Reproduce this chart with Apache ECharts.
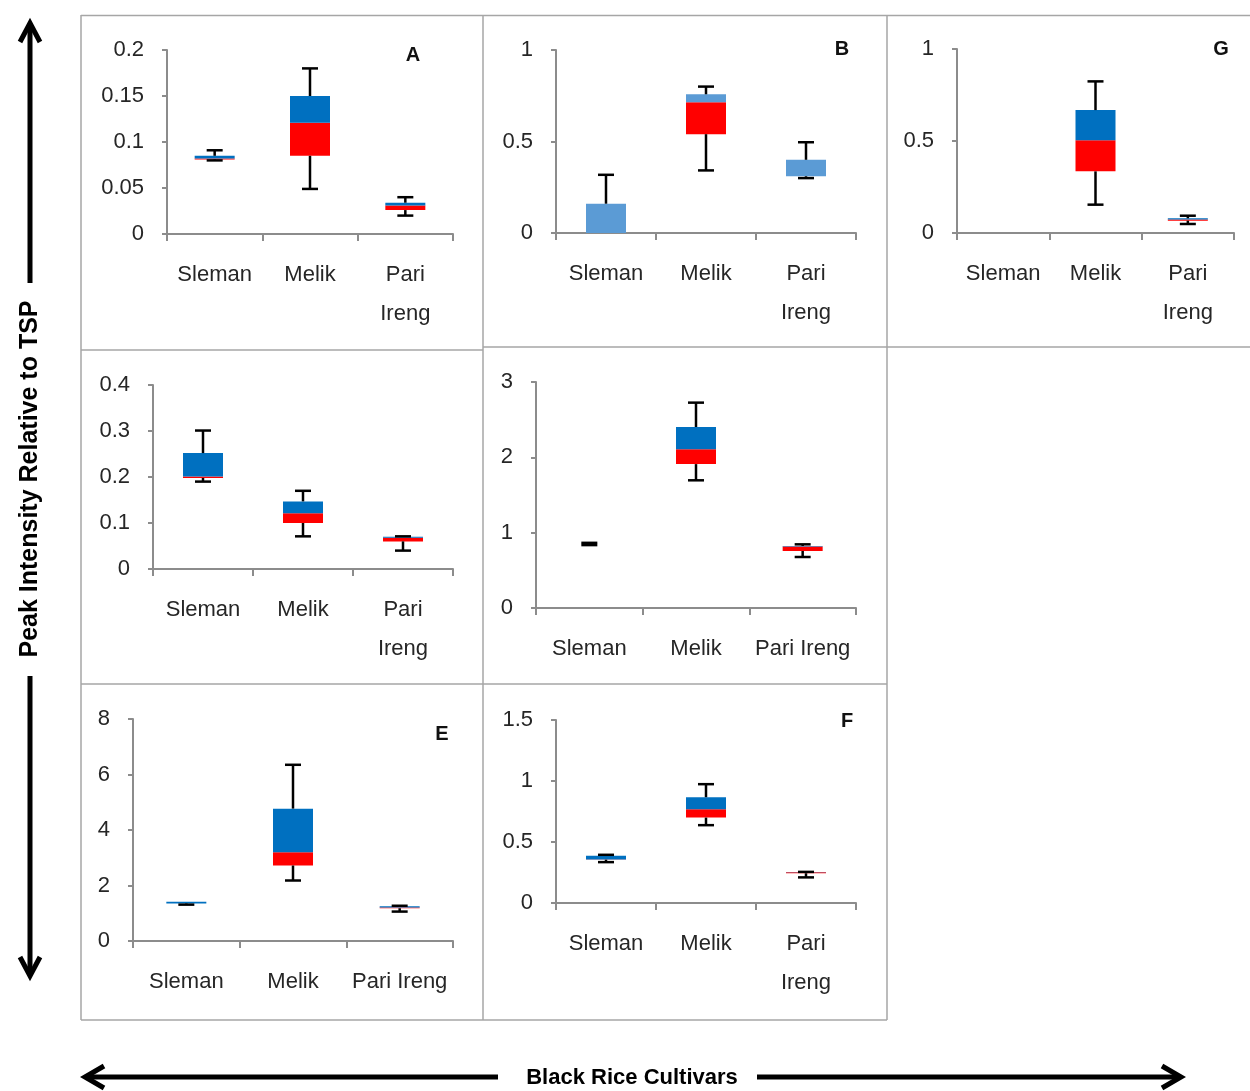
<!DOCTYPE html>
<html><head><meta charset="utf-8">
<script src="https://cdn.jsdelivr.net/npm/echarts@6/dist/echarts.min.js"></script>
<style>html,body{margin:0;padding:0;background:#fff}#c{width:1250px;height:1091px}</style>
</head><body><div id="c"></div>
<script>
// ---------- DATA ----------
const categories = ['Sleman', 'Melik', 'Pari Ireng'];
// rows per cultivar: [min, q1, median, q3, max]
const panelA = [[0.080, 0.081, 0.082, 0.085, 0.091], [0.049, 0.085, 0.121, 0.150, 0.180], [0.020, 0.026, 0.031, 0.034, 0.040]];
const panelB = [[0, 0, 0, 0.160, 0.318], [0.342, 0.540, 0.715, 0.758, 0.800], [0.300, 0.310, 0.310, 0.400, 0.496]];
const panelG = [null, [0.154, 0.335, 0.504, 0.668, 0.824], [0.049, 0.067, 0.073, 0.080, 0.094]];
const panelMidLeft = [[0.190, 0.198, 0.201, 0.252, 0.301], [0.071, 0.100, 0.121, 0.147, 0.170], [0.040, 0.060, 0.068, 0.070, 0.071]];
const panelMidRight = [[0.835, 0.850, 0.850, 0.850, 0.865], [1.695, 1.910, 2.106, 2.403, 2.726], [0.677, 0.757, 0.815, 0.823, 0.845]];
const panelE = [[1.31, 1.35, 1.35, 1.41, 1.41], [2.18, 2.72, 3.20, 4.77, 6.35], [1.06, 1.18, 1.21, 1.25, 1.27]];
const panelF = [[0.335, 0.355, 0.357, 0.387, 0.395], [0.638, 0.700, 0.769, 0.867, 0.974], [0.210, 0.244, 0.252, 0.254, 0.255]];
const yMax = [0.2, 1, 1, 0.4, 3, 8, 1.5];
const yStep = [0.05, 0.5, 0.5, 0.1, 1, 2, 0.5];
const panelLetters = ['A', 'B', 'G', '', '', 'E', 'F'];
const yTitle = 'Peak Intensity Relative to TSP';
const xTitle = 'Black Rice Cultivars';

// ---------- LAYOUT / STYLE ----------
const panels = [panelA, panelB, panelG, panelMidLeft, panelMidRight, panelE, panelF];
const grids = [
  {left: 167, top: 50, width: 286, height: 184},
  {left: 556, top: 50, width: 300, height: 183},
  {left: 957, top: 49, width: 277, height: 184},
  {left: 153, top: 385, width: 300, height: 184},
  {left: 536, top: 382, width: 320, height: 226},
  {left: 133, top: 719, width: 320, height: 222},
  {left: 556, top: 720, width: 300, height: 183}
];
const wrapLabels = [true, true, true, true, false, false, true];
const letterPos = [[413, 55], [842, 49], [1221, 49], null, null, [442, 734], [847, 721]];
const FONT = 'Liberation Sans, Arial, sans-serif';
const AXIS_GRAY = '#8c8c8c';
const TEXT = '#262626';
const RED = '#ff0000', BLUE = '#0070c0', LIGHT_BLUE = '#5b9bd5';

function whiskerRender(params, api) {
  const x = api.value(0);
  const mn = api.value(1), q1 = api.value(2), q3 = api.value(3), mx = api.value(4);
  const half = 8;
  const children = [];
  const seg = (a, b) => {
    const p1 = api.coord([x, a]), p2 = api.coord([x, b]);
    children.push({type: 'line', shape: {x1: p1[0], y1: p1[1], x2: p2[0], y2: p2[1]}, style: {stroke: '#000', lineWidth: 2.5}});
    children.push({type: 'line', shape: {x1: p2[0] - half, y1: p2[1], x2: p2[0] + half, y2: p2[1]}, style: {stroke: '#000', lineWidth: 2.5}});
  };
  if (mx > q3) seg(q3, mx);
  if (mn < q1) seg(q1, mn);
  return {type: 'group', children};
}

const grid = [], xAxis = [], yAxis = [], series = [];
panels.forEach((rows, i) => {
  grid.push(Object.assign({containLabel: false}, grids[i]));
  xAxis.push({
    type: 'category', gridIndex: i, data: categories, boundaryGap: true,
    axisLine: {lineStyle: {color: AXIS_GRAY, width: 2}},
    axisTick: {show: true, length: 7, lineStyle: {color: AXIS_GRAY, width: 2}},
    axisLabel: {interval: 0, margin: 21, fontSize: 22, fontFamily: FONT, color: TEXT, lineHeight: 39,
      formatter: v => wrapLabels[i] ? v.replace(' ', '\n') : v}
  });
  yAxis.push({
    type: 'value', gridIndex: i, min: 0, max: yMax[i], interval: yStep[i],
    splitLine: {show: false},
    axisLine: {show: true, lineStyle: {color: AXIS_GRAY, width: 2}},
    axisTick: {show: true, length: 5, lineStyle: {color: AXIS_GRAY, width: 2}},
    axisLabel: {margin: 23, fontSize: 22, fontFamily: FONT, color: TEXT}
  });
  const common = {type: 'bar', xAxisIndex: i, yAxisIndex: i, stack: 'p' + i, barWidth: 40, silent: true, z: 2};
  series.push(Object.assign({}, common, {data: rows.map(r => r ? r[1] : '-'), itemStyle: {color: 'transparent'}}));
  series.push(Object.assign({}, common, {data: rows.map(r => r ? r[2] - r[1] : '-'), itemStyle: {color: RED}}));
  series.push(Object.assign({}, common, {data: rows.map(r => r ? r[3] - r[2] : '-'), itemStyle: {color: i === 1 ? LIGHT_BLUE : BLUE}}));
  series.push({
    type: 'custom', xAxisIndex: i, yAxisIndex: i, silent: true, z: 5,
    renderItem: whiskerRender,
    encode: {x: 0, y: [1, 4]},
    data: rows.map((r, j) => r ? [j, r[0], r[1], r[3], r[4]] : null).filter(d => d)
  });
});

// ---------- DECORATION ----------
const BORDER = '#a6a6a6';
const line = (x1, y1, x2, y2, stroke, w) => ({type: 'line', silent: true, shape: {x1, y1, x2, y2}, style: {stroke, lineWidth: w}});
const graphic = [
  line(81, 15.5, 1250, 15.5, BORDER, 1.5),
  line(81, 15, 81, 1020, BORDER, 1.5),
  line(483, 15, 483, 1020, BORDER, 1.5),
  line(887, 15, 887, 1020, BORDER, 1.5),
  line(81, 350, 483, 350, BORDER, 1.5),
  line(483, 347, 1250, 347, BORDER, 1.5),
  line(81, 684, 887, 684, BORDER, 1.5),
  line(81, 1020, 887, 1020, BORDER, 1.5),
  // vertical arrow
  line(30, 24, 30, 283, '#000', 5),
  line(30, 676, 30, 975, '#000', 5),
  {type: 'polyline', silent: true, shape: {points: [[20, 42], [30, 23], [40, 42]]}, style: {stroke: '#000', lineWidth: 5, fill: null}},
  {type: 'polyline', silent: true, shape: {points: [[20, 957], [30, 976], [40, 957]]}, style: {stroke: '#000', lineWidth: 5, fill: null}},
  // horizontal arrow
  line(86, 1077, 498, 1077, '#000', 5),
  line(757, 1077, 1180, 1077, '#000', 5),
  {type: 'polyline', silent: true, shape: {points: [[104, 1066], [85, 1077], [104, 1088]]}, style: {stroke: '#000', lineWidth: 5, fill: null}},
  {type: 'polyline', silent: true, shape: {points: [[1162, 1066], [1181, 1077], [1162, 1088]]}, style: {stroke: '#000', lineWidth: 5, fill: null}},
  {type: 'text', silent: true, x: 30, y: 479, rotation: Math.PI / 2,
    style: {text: yTitle, fontSize: 25, fontWeight: 'bold', fontFamily: FONT, fill: '#000', align: 'center', verticalAlign: 'middle'}},
  {type: 'text', silent: true, x: 632, y: 1078,
    style: {text: xTitle, fontSize: 22, fontWeight: 'bold', fontFamily: FONT, fill: '#000', align: 'center', verticalAlign: 'middle'}}
];
panelLetters.forEach((t, i) => {
  if (!t) return;
  graphic.push({type: 'text', silent: true, x: letterPos[i][0], y: letterPos[i][1],
    style: {text: t, fontSize: 20, fontWeight: 'bold', fontFamily: FONT, fill: '#111', align: 'center', verticalAlign: 'middle'}});
});

const chart = echarts.init(document.getElementById('c'), null, {renderer: 'canvas'});
chart.setOption({animation: false, backgroundColor: '#fff', grid, xAxis, yAxis, series, graphic});
</script></body></html>
